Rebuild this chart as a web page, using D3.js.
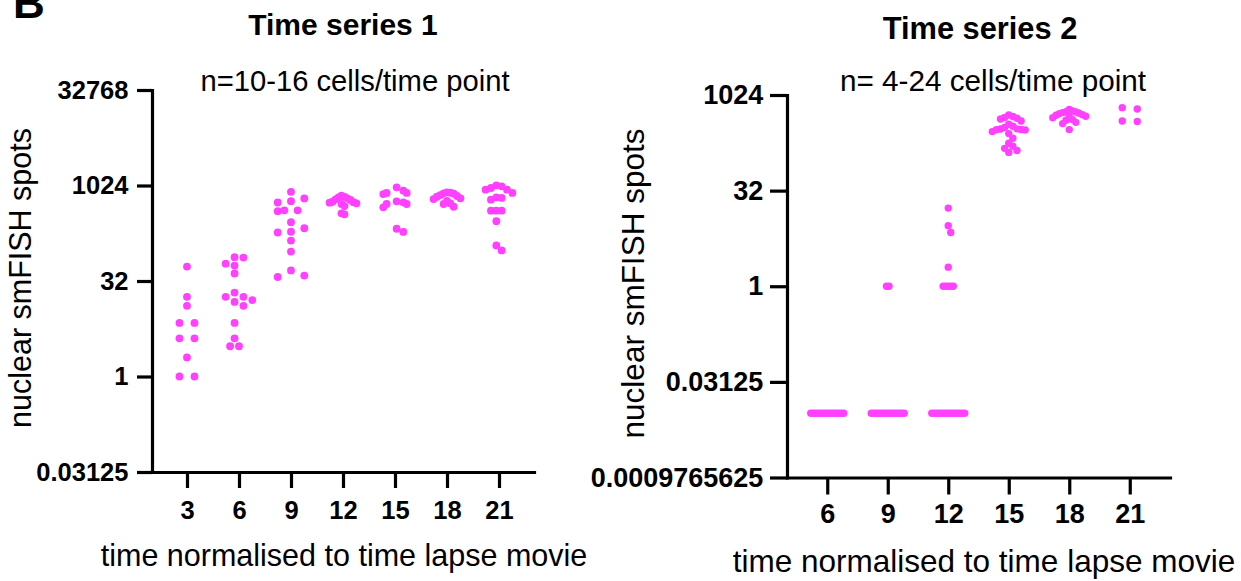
<!DOCTYPE html>
<html>
<head>
<meta charset="utf-8">
<script src="https://cdn.jsdelivr.net/npm/d3@7"></script>
<style>
  html, body { margin: 0; padding: 0; background: #fff; }
  svg { display: block; }
  text { font-family: Arial, "Liberation Sans", Helvetica, sans-serif; fill: #000; }
</style>
</head>
<body>
<script>
// ---- Data: nuclear smFISH spot counts per cell, by normalised time point ----
// Time series 1
const days1 = ["3", "6", "9", "12", "15", "18", "21"];
const s1Day3  = [54, 18, 13, 7, 7, 4, 4, 2, 1, 1];
const s1Day6  = [76, 75, 60, 56, 42, 21, 18, 18, 16, 15, 13, 7, 4, 3, 3];
const s1Day9  = [815, 640, 580, 553, 416, 416, 402, 270, 217, 191, 186, 139, 93, 47, 39, 37];
const s1Day12 = [708, 680, 667, 643, 620, 605, 568, 560, 549, 537, 523, 486, 373, 360];
const s1Day15 = [957, 848, 781, 781, 751, 577, 556, 523, 523, 464, 213, 190];
const s1Day18 = [798, 787, 771, 760, 724, 699, 681, 643, 626, 588, 537, 523, 474];
const s1Day21 = [1030, 995, 936, 879, 879, 781, 667, 652, 612, 410, 410, 410, 280, 116, 97];
const yTicks1 = [0.03125, 1, 32, 1024, 32768];

// Time series 2 (cells without spots are entered as 0)
const days2 = ["6", "9", "12", "15", "18", "21"];
const s2Day6  = [0, 0, 0, 0, 0, 0, 0, 0, 0, 0, 0, 0, 0, 0];
const s2Day9  = [0, 0, 0, 0, 0, 0, 0, 0, 0, 0, 0, 0, 0, 0, 1, 1];
const s2Day12 = [0, 0, 0, 0, 0, 0, 0, 0, 0, 0, 0, 0, 0, 0, 1, 1, 1, 1, 1, 2, 7, 9, 17];
const s2Day15 = [495, 470, 452, 440, 430, 400, 354, 330, 315, 300, 298, 294, 290, 288, 272, 253, 214, 178, 160, 148, 137, 128];
const s2Day18 = [604, 573, 560, 553, 541, 530, 522, 500, 491, 475, 461, 450, 420, 410, 380, 363, 292];
const s2Day21 = [648, 617, 399, 391];
const yTicks2 = [0.0009765625, 0.03125, 1, 32, 1024];

// zero counts cannot sit on a log axis; they are drawn at this floor value
const ZERO_AT = 0.01;
const DOT = "#ff40ff";

const W = 1241, H = 581;
const svg = d3.select("body").append("svg").attr("width", W).attr("height", H);

// panel letter
svg.append("text").attr("x", 13).attr("y", 18)
  .attr("font-size", 44).attr("font-weight", "bold").text("B");

// Scatter-dot layout: dodge points sideways, compressing spacing to fit the column width
function swarm(values, y, r, maxWidth, maxStep) {
  const pts = values.map(v => ({ v, y: y(v > 0 ? v : ZERO_AT), dx: 0 }))
    .sort((a, b) => a.y - b.y);
  const place = step => {
    const placed = [];
    for (const p of pts) {
      for (let k = 0; k < 1000; k++) {
        const m = k === 0 ? 0 : (k % 2 === 1 ? (k + 1) / 2 : -k / 2);
        const c = m * step / 2;
        const free = placed.every(q =>
          Math.abs(q.y - p.y) >= 2 * r || Math.abs(q.dx - c) >= step - 1e-6);
        if (free) { p.dx = c; placed.push(p); break; }
      }
    }
    return d3.max(pts, p => p.dx) - d3.min(pts, p => p.dx);
  };
  let step = maxStep;
  while (place(step) > maxWidth && step > 0.5) step *= 0.98;
  // rows of identical values are centred on themselves
  d3.group(pts, p => p.v).forEach(g => {
    if (g.length > 1) {
      const m = d3.mean(g, p => p.dx);
      g.forEach(p => { p.dx -= m; });
    }
  });
  const lo = d3.min(pts, p => p.dx), hi = d3.max(pts, p => p.dx);
  pts.forEach(p => { p.dx -= (lo + hi) / 2; });
  return pts;
}

function panel(cfg) {
  const g = svg.append("g");
  const x = d3.scalePoint().domain(cfg.days)
    .range([cfg.xLeft, cfg.xRight]).padding(cfg.xPad);
  const y = d3.scaleLog().base(2).domain(cfg.yDomain)
    .range([cfg.yBottom, cfg.yTop]);

  // dots
  cfg.days.forEach((d, i) => {
    const pts = swarm(cfg.series[i], y, cfg.r, cfg.colWidth, 15);
    g.append("g").selectAll("circle").data(pts).join("circle")
      .attr("cx", p => x(d) + p.dx)
      .attr("cy", p => p.y)
      .attr("r", cfg.r)
      .attr("fill", DOT);
  });

  // y axis
  const ya = g.append("g").attr("transform", `translate(${cfg.xLeft},0)`)
    .call(d3.axisLeft(y).tickValues(cfg.yTicks).tickFormat(v => String(v))
      .tickSize(cfg.yTickLen).tickSizeOuter(0).tickPadding(cfg.yTickPad));
  // x axis
  const xa = g.append("g").attr("transform", `translate(0,${cfg.yBottom})`)
    .call(d3.axisBottom(x).tickSize(cfg.xTickLen).tickSizeOuter(0).tickPadding(cfg.xTickPad));

  [ya, xa].forEach(a => {
    a.select(".domain").attr("stroke", "#000").attr("stroke-width", 3.2)
      .attr("stroke-linecap", "square");
    a.selectAll(".tick line").attr("stroke", "#000").attr("stroke-width", 3.2);
    a.selectAll(".tick text").attr("fill", "#000")
      .attr("font-family", 'Arial, "Liberation Sans", Helvetica, sans-serif')
      .attr("font-weight", "bold").attr("font-size", cfg.tickFont);
  });

  // titles and labels
  g.append("text").attr("x", cfg.titleX).attr("y", cfg.titleY)
    .attr("text-anchor", "middle").attr("font-weight", "bold")
    .attr("font-size", cfg.titleFont).text(cfg.title);
  g.append("text").attr("x", cfg.noteX).attr("y", cfg.noteY)
    .attr("text-anchor", "middle").attr("font-size", cfg.noteFont).text(cfg.note);
  g.append("text")
    .attr("transform", `translate(${cfg.yLabelX},${cfg.yLabelY}) rotate(-90)`)
    .attr("text-anchor", "middle").attr("font-size", cfg.labelFont)
    .text("nuclear smFISH spots");
  g.append("text").attr("x", cfg.xLabelX).attr("y", cfg.xLabelY)
    .attr("text-anchor", "middle").attr("font-size", cfg.labelFont)
    .text("time normalised to time lapse movie");
}

panel({
  days: days1,
  series: [s1Day3, s1Day6, s1Day9, s1Day12, s1Day15, s1Day18, s1Day21],
  yTicks: yTicks1, yDomain: [2 ** -5, 2 ** 15],
  xLeft: 152, xRight: 534, xPad: 0.673, yTop: 90, yBottom: 472,
  yTickLen: 15, yTickPad: 8.5, xTickLen: 16, xTickPad: 12.5,
  tickFont: 25.5, r: 3.9, colWidth: 27,
  title: "Time series 1", titleX: 343, titleY: 35, titleFont: 30,
  note: "n=10-16 cells/time point", noteX: 355, noteY: 91, noteFont: 29.2,
  yLabelX: 31, yLabelY: 278, xLabelX: 344, xLabelY: 566, labelFont: 30.5
});

panel({
  days: days2,
  series: [s2Day6, s2Day9, s2Day12, s2Day15, s2Day18, s2Day21],
  yTicks: yTicks2, yDomain: [2 ** -10, 2 ** 10],
  xLeft: 787, xRight: 1170, xPad: 0.665, yTop: 95, yBottom: 477.5,
  yTickLen: 17, yTickPad: 6.7, xTickLen: 17, xTickPad: 9.5,
  tickFont: 27, r: 3.7, colWidth: 33,
  title: "Time series 2", titleX: 980, titleY: 39, titleFont: 30.8,
  note: "n= 4-24 cells/time point", noteX: 993, noteY: 91, noteFont: 29.7,
  yLabelX: 644, yLabelY: 283.5, xLabelX: 984, xLabelY: 571.5, labelFont: 31.5
});
</script>
</body>
</html>
